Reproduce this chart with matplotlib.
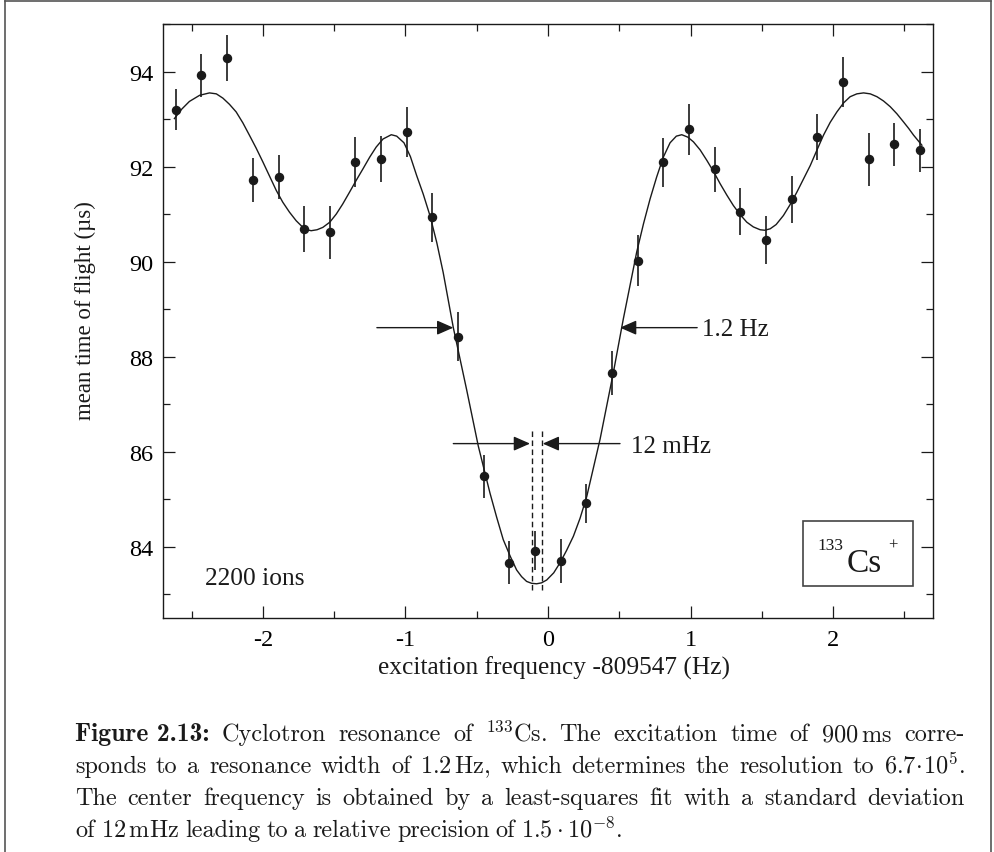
import numpy as np
import matplotlib
matplotlib.use('Agg')
import matplotlib.pyplot as plt
from matplotlib.ticker import MultipleLocator
from matplotlib.patches import Rectangle
from matplotlib.lines import Line2D

# measured points (frequency offset in Hz, mean time of flight in us)
freq = [-2.61, -2.43, -2.25, -2.07, -1.89, -1.71, -1.53, -1.35, -1.17, -0.99,
        -0.81, -0.63, -0.45, -0.27, -0.09, 0.09, 0.27, 0.45, 0.63, 0.81,
        0.99, 1.17, 1.35, 1.53, 1.71, 1.89, 2.07, 2.25, 2.43, 2.61]
tof = [93.20, 93.92, 94.28, 91.71, 91.78, 90.69, 90.62, 92.09, 92.16, 92.73,
       90.93, 88.42, 85.48, 83.66, 83.92, 83.70, 84.91, 87.65, 90.02, 92.09,
       92.78, 91.94, 91.05, 90.46, 91.31, 92.62, 93.78, 92.15, 92.47, 92.34]
tof_err = [0.44, 0.45, 0.49, 0.46, 0.46, 0.49, 0.56, 0.53, 0.49, 0.53,
           0.51, 0.52, 0.45, 0.45, 0.42, 0.46, 0.42, 0.46, 0.54, 0.52,
           0.53, 0.48, 0.49, 0.50, 0.49, 0.49, 0.52, 0.56, 0.45, 0.46]

# fitted line shape
fit_x = [-2.620, -2.568, -2.515, -2.443, -2.374, -2.326, -2.280, -2.234, -2.187, -2.140,
         -2.094, -2.047, -2.000, -1.953, -1.906, -1.860, -1.813, -1.766, -1.719, -1.690,
         -1.661, -1.620, -1.579, -1.530, -1.485, -1.440, -1.392, -1.345, -1.298, -1.250,
         -1.205, -1.157, -1.099, -1.061, -1.010, -0.965, -0.921, -0.875, -0.828, -0.780,
         -0.735, -0.664, -0.571, -0.489, -0.407, -0.360, -0.314, -0.265, -0.220, -0.185,
         -0.150, -0.115, -0.080, -0.045, -0.009, 0.040, 0.084, 0.130, 0.178, 0.225,
         0.272, 0.365, 0.458, 0.528, 0.622, 0.670, 0.716, 0.762, 0.809, 0.856,
         0.900, 0.938, 0.980, 1.020, 1.067, 1.114, 1.160, 1.207, 1.254, 1.300,
         1.347, 1.394, 1.440, 1.488, 1.520, 1.558, 1.600, 1.651, 1.698, 1.745,
         1.792, 1.839, 1.885, 1.932, 1.979, 2.026, 2.073, 2.119, 2.166, 2.213,
         2.260, 2.307, 2.353, 2.400, 2.447, 2.493, 2.530, 2.564, 2.622]
fit_y = [93.01, 93.21, 93.37, 93.50, 93.55, 93.53, 93.44, 93.31, 93.15, 92.92,
         92.66, 92.39, 92.10, 91.80, 91.50, 91.25, 91.04, 90.86, 90.72, 90.67,
         90.65, 90.67, 90.72, 90.83, 91.00, 91.21, 91.46, 91.71, 91.95, 92.20,
         92.41, 92.58, 92.67, 92.64, 92.50, 92.21, 91.81, 91.42, 90.97, 90.40,
         89.77, 88.61, 87.31, 86.12, 85.13, 84.62, 84.15, 83.80, 83.51, 83.37,
         83.27, 83.23, 83.22, 83.24, 83.30, 83.45, 83.66, 83.92, 84.22, 84.60,
         85.06, 86.26, 87.66, 88.79, 90.20, 90.80, 91.32, 91.78, 92.20, 92.50,
         92.64, 92.67, 92.62, 92.52, 92.35, 92.13, 91.90, 91.64, 91.40, 91.18,
         90.99, 90.83, 90.73, 90.67, 90.66, 90.69, 90.78, 90.97, 91.20, 91.46,
         91.74, 92.02, 92.34, 92.66, 92.93, 93.15, 93.34, 93.47, 93.53, 93.55,
         93.53, 93.47, 93.38, 93.26, 93.11, 92.94, 92.80, 92.66, 92.45]

# width markers: (left tail, left tip, right tip, right tail, height)
fwhm_marks = [-1.20, -0.664, 0.505, 1.046, 88.61]
sigma_marks = [-0.664, -0.126, -0.037, 0.505, 86.17]
center_lines = [-0.115, -0.044]

caption = [
    [("Figure 2.13:", 'bold'), "Cyclotron", "resonance", "of", r"$^{133}$Cs.", "The",
     "excitation", "time", "of", r"900$\,$ms", "corre-"],
    ["sponds", "to", "a", "resonance", "width", "of", r"1.2$\,$Hz,", "which", "determines",
     "the", "resolution", "to", r"$6.7\!\cdot\!10^5$."],
    ["The", "center", "frequency", "is", "obtained", "by", "a", "least-squares", "fit",
     "with", "a", "standard", "deviation"],
    ["of", r"12$\,$mHz", "leading", "to", "a", "relative", "precision", "of",
     r"$1.5\cdot10^{-8}$."],
]

plt.rcParams['font.family'] = 'Liberation Serif'
plt.rcParams['mathtext.fontset'] = 'cm'

W, H = 995, 853
fig = plt.figure(figsize=(W / 100, H / 100), dpi=100)
ax = fig.add_axes([163 / W, 1 - 619 / H, 770 / W, 594 / H])

ink = '#1a1a1a'

# data with error bars and the fit
ax.errorbar(freq, tof, yerr=tof_err, fmt='o', color=ink, ms=5.8, elinewidth=1.2,
            capsize=0, zorder=3)
ax.plot(fit_x, fit_y, color=ink, lw=1.0, zorder=2)

# arrows marking the line width
arrow = dict(arrowstyle='-|>,head_length=0.5,head_width=0.22', color=ink, lw=1.0,
             shrinkA=0, shrinkB=0, mutation_scale=20)
ax.annotate('', xy=(fwhm_marks[1], fwhm_marks[4]), xytext=(fwhm_marks[0], fwhm_marks[4]),
            arrowprops=arrow)
ax.annotate('', xy=(fwhm_marks[2], fwhm_marks[4]), xytext=(fwhm_marks[3], fwhm_marks[4]),
            arrowprops=arrow)
ax.annotate('', xy=(sigma_marks[1], sigma_marks[4]), xytext=(sigma_marks[0], sigma_marks[4]),
            arrowprops=arrow)
ax.annotate('', xy=(sigma_marks[2], sigma_marks[4]), xytext=(sigma_marks[3], sigma_marks[4]),
            arrowprops=arrow)
for cx in center_lines:
    ax.plot([cx, cx], [83.09, 86.47], color=ink, lw=1.0, ls=(0, (4, 2.5)))

ax.text(1.08, 88.46, '1.2 Hz', fontsize=18, color=ink, va='baseline')
ax.text(0.582, 85.99, '12 mHz', fontsize=18, color=ink, va='baseline')
ax.text(-2.405, 83.22, '2200 ions', fontsize=18.3, color=ink, va='baseline')

# isotope label in a box
ax.add_patch(Rectangle((1.788, 83.17), 0.772, 1.37, fill=False, ec='#444444', lw=1.2))
ax.text(2.097, 83.49, 'Cs', fontsize=24, color=ink, va='baseline')
ax.text(1.893, 83.95, '133', fontsize=12.5, color=ink, va='baseline')
ax.text(2.419, 84.04, '+', fontsize=12, color=ink, va='center', ha='center')

# axes
ax.set_xlim(-2.7, 2.7)
ax.set_ylim(82.5, 95)
ax.set_xticks([-2, -1, 0, 1, 2])
ax.set_xticklabels(['-2', '-1', '0', '1', '2'])
ax.set_yticks([84, 86, 88, 90, 92, 94])
ax.xaxis.set_minor_locator(MultipleLocator(0.5))
ax.yaxis.set_minor_locator(MultipleLocator(1))
ax.tick_params(which='both', direction='in', top=True, right=True, color=ink, width=0.9)
ax.tick_params(which='major', length=8.5)
ax.tick_params(which='minor', length=5)
ax.tick_params(axis='x', labelsize=17.5, pad=8)
ax.tick_params(axis='y', labelsize=17.5, pad=7)
for s in ax.spines.values():
    s.set_color(ink)
    s.set_linewidth(1.0)

# axis titles placed by hand
ax.text(0.508, -0.0943, 'excitation frequency -809547 (Hz)', fontsize=18.3, color=ink,
        transform=ax.transAxes, ha='center', va='baseline')
ax.text(-0.101, 0.519, 'mean time of flight (µs)', fontsize=16.5, color=ink,
        transform=ax.transAxes, ha='center', va='center', rotation=90)

# outer frame of the figure box
frame = '#555555'
fig.add_artist(Line2D([5 / W, 5 / W], [0, 1 - 2 / H], color=frame, lw=1.2))
fig.add_artist(Line2D([991 / W, 991 / W], [0, 1 - 2 / H], color=frame, lw=1.2))
fig.add_artist(Line2D([5 / W, 991 / W], [1 - 2 / H, 1 - 2 / H], color=frame, lw=1.2))

# caption, justified line by line
cap_size = 17.5
cap_left, cap_right = 75, 965
baselines = [741, 773, 805, 837]
renderer = fig.canvas.get_renderer()
for n, (words, base) in enumerate(zip(caption, baselines)):
    objs = []
    for w in words:
        if isinstance(w, tuple):
            t = fig.text(0, 1 - base / H, w[0], fontsize=18.5, family='cmb10',
                         va='baseline', color=ink)
        else:
            t = fig.text(0, 1 - base / H, w, fontsize=cap_size, family='cmr10',
                         va='baseline', color=ink)
        objs.append(t)
    widths = [t.get_window_extent(renderer).width for t in objs]
    if n < len(caption) - 1:
        gap = (cap_right - cap_left - sum(widths)) / (len(objs) - 1)
    else:
        gap = cap_size * 0.35
    x = cap_left
    for t, w in zip(objs, widths):
        t.set_x(x / W)
        x += w + gap

fig.savefig('out.png', dpi=100)
